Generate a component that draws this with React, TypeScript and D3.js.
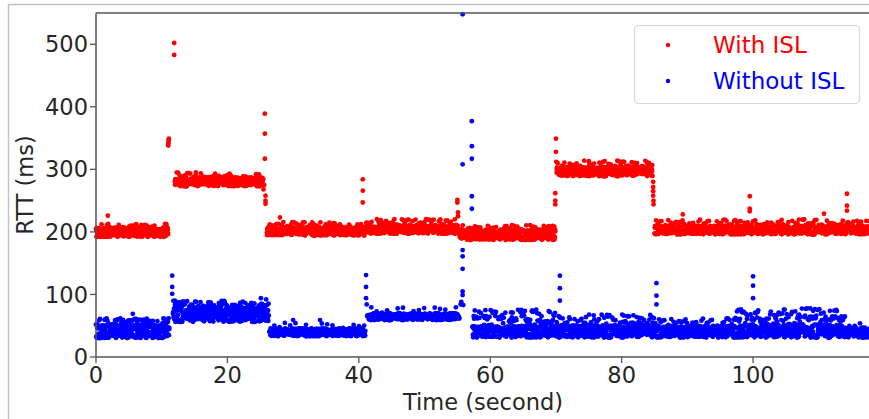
import * as d3 from 'd3';
import { useMemo } from 'react';

const W = 869;
const H = 419;

// band segments: [start (s), end (s), band low, band high, outlier top, outlier share]
const redSegments = [
  [0, 11.0, 192, 207, 213, 0.1],
  [12.0, 25.5, 273, 287, 295, 0.1],
  [26.0, 41.0, 194, 208, 216, 0.1],
  [41.0, 55.1, 197, 211, 221, 0.1],
  [55.3, 69.9, 187, 204, 211, 0.1],
  [70.1, 84.7, 289, 304, 314, 0.12],
  [85.0, 117.8, 196, 210, 220, 0.1],
];

const blueSegments = [
  [0, 11.2, 30, 52, 62, 0.15],
  [11.7, 26.3, 56, 78, 90, 0.15],
  [26.4, 41.0, 33, 46, 55, 0.05],
  [41.3, 55.3, 59, 70, 80, 0.05],
  [57.3, 70.0, 31, 50, 76, 0.25],
  [70.0, 85.0, 31, 50, 68, 0.15],
  [85.0, 97.0, 31, 50, 62, 0.1],
  [97.0, 114.0, 31, 52, 78, 0.2],
  [114.0, 117.8, 31, 47, 56, 0.05],
];

// isolated samples: [time, rtt]
const redSpikes = [
  [1.8, 226], [11.0, 338], [11.0, 341], [11.05, 344], [11.05, 347], [11.1, 349],
  [11.9, 502], [11.9, 483], [15.2, 295], [25.5, 268], [25.6, 275],
  [25.7, 389], [25.7, 357], [25.7, 317], [25.8, 258], [25.8, 250], [25.8, 245],
  [28.0, 223], [40.6, 284], [40.6, 266], [40.6, 247],
  [55.0, 251], [55.0, 247], [55.1, 231], [55.1, 225],
  [69.9, 262], [69.9, 250], [69.9, 244], [70.0, 349], [70.0, 328], [70.05, 312],
  [84.8, 280], [84.8, 272], [84.8, 265], [84.8, 258], [84.85, 250], [84.85, 244],
  [89.3, 228], [94.5, 217], [99.5, 257], [99.5, 237], [99.5, 233],
  [110.8, 229], [114.3, 261], [114.3, 242], [114.3, 234],
];

const blueSpikes = [
  [5.6, 69], [11.6, 130], [11.6, 112], [11.6, 101], [12.0, 90], [12.2, 88],
  [25.1, 94], [25.9, 92], [30.0, 59], [34.1, 59],
  [41.1, 131], [41.1, 112], [41.1, 94], [41.2, 84],
  [55.5, 84], [55.6, 88], [55.8, 548], [55.8, 308], [55.8, 171], [55.8, 161],
  [55.8, 141], [55.8, 105], [55.8, 99], [55.9, 83],
  [57.2, 377], [57.2, 337], [57.2, 317], [57.2, 257], [57.2, 237],
  [70.6, 130], [70.6, 110], [70.6, 90],
  [85.3, 118], [85.3, 98], [85.3, 84],
  [100.0, 129], [100.0, 114], [100.0, 94],
];

const xTicks = [0, 20, 40, 60, 80, 100];
const yTicks = [0, 100, 200, 300, 400, 500];

// fixed jitter tables for the dense bands
const J1 = [0.12, 0.87, 0.45, 0.63, 0.05, 0.91, 0.34, 0.72, 0.28, 0.56, 0.99, 0.17, 0.68, 0.41, 0.83, 0.09,
  0.52, 0.76, 0.23, 0.95, 0.38, 0.61, 0.02, 0.79, 0.47, 0.14, 0.88, 0.31, 0.66, 0.54, 0.20];
const J2 = [0.73, 0.26, 0.58, 0.04, 0.92, 0.39, 0.67, 0.15, 0.84, 0.49, 0.31, 0.96, 0.08, 0.62, 0.43,
  0.77, 0.19, 0.55, 0.89, 0.35, 0.71, 0.11, 0.98, 0.46, 0.27, 0.64, 0.82, 0.06, 0.51];
const J3 = [0.44, 0.91, 0.17, 0.63, 0.08, 0.76, 0.35, 0.97, 0.22, 0.58, 0.86, 0.13, 0.69, 0.41, 0.94,
  0.27, 0.52, 0.05, 0.81, 0.37, 0.66, 0.89, 0.19];

function bandPoints(segs, offset) {
  const pts = [];
  let i = offset;
  segs.forEach(([t0, t1, lo, hi, top, share]) => {
    for (let t = t0; t <= t1; t += 0.035, i++) {
      const u = (J1[i % 31] + J2[i % 29]) % 1;
      let v = lo + (hi - lo) * u;
      if (J3[i % 23] > 1 - share) {
        const w = (J1[(i * 3) % 31] + J2[(i * 5) % 29]) % 1;
        v = hi - 4 + (top - hi + 4) * w;
      }
      pts.push([t, v]);
    }
  });
  return pts;
}

const font = '"DejaVu Sans", sans-serif';
const textColor = '#262626';

export default function App() {
  const margin = { left: 96, top: 13, right: 870, bottom: 357 };

  const x = d3.scaleLinear().domain([0, 117.8]).range([margin.left, margin.right]);
  const y = d3.scaleLinear().domain([0, 550]).range([margin.bottom, margin.top]);

  const red = useMemo(() => bandPoints(redSegments, 0).concat(redSpikes), []);
  const blue = useMemo(() => bandPoints(blueSegments, 7).concat(blueSpikes), []);

  return (
    <svg width={W} height={H} style={{ position: 'absolute', left: 0, top: 0, background: '#fff' }}>
      <rect x={8.5} y={4.5} width={W} height={H} fill="none" stroke="#c4c4c4" strokeWidth={1.5} />

      <g>
        {red.map((d, i) => (
          <circle key={'r' + i} cx={x(d[0])} cy={y(d[1])} r={2.4} fill="#ff0000" />
        ))}
        {blue.map((d, i) => (
          <circle key={'b' + i} cx={x(d[0])} cy={y(d[1])} r={2.4} fill="#0000ff" />
        ))}
      </g>

      {/* spines */}
      <line x1={margin.left} x2={margin.left} y1={margin.top} y2={margin.bottom} stroke="#555" strokeWidth={1.5} />
      <line x1={margin.left} x2={W} y1={margin.bottom} y2={margin.bottom} stroke="#555" strokeWidth={1.5} />
      <line x1={margin.left} x2={W} y1={margin.top} y2={margin.top} stroke="#555" strokeWidth={1.5} />

      {/* y axis */}
      {yTicks.map(t => (
        <g key={'y' + t}>
          <line x1={margin.left - 6} x2={margin.left} y1={y(t)} y2={y(t)} stroke="#555" strokeWidth={1.3} />
          <text x={margin.left - 8} y={y(t)} dy="0.36em" textAnchor="end" fontFamily={font} fontSize={22.5} fill={textColor}>
            {t}
          </text>
        </g>
      ))}

      {/* x axis */}
      {xTicks.map(t => (
        <g key={'x' + t}>
          <line x1={x(t)} x2={x(t)} y1={margin.bottom} y2={margin.bottom + 6} stroke="#555" strokeWidth={1.3} />
          <text x={x(t)} y={383} textAnchor="middle" fontFamily={font} fontSize={22.5} fill={textColor}>
            {t}
          </text>
        </g>
      ))}

      <text x={483} y={410} textAnchor="middle" fontFamily={font} fontSize={22.5} fill={textColor}>
        Time (second)
      </text>
      <text
        transform={`translate(33,${(margin.top + margin.bottom) / 2}) rotate(-90)`}
        textAnchor="middle"
        fontFamily={font}
        fontSize={22.5}
        fill={textColor}
      >
        RTT (ms)
      </text>

      {/* legend */}
      <g>
        <rect x={634.5} y={25.5} width={225} height={78} rx={4} fill="#fff" fillOpacity={0.85} stroke="#d8d8d8" strokeWidth={1.2} />
        <circle cx={668} cy={45} r={2.2} fill="#ff0000" />
        <text x={713} y={53} fontFamily={font} fontSize={23} fill="#ff0000">With ISL</text>
        <circle cx={668} cy={81} r={2.2} fill="#0000ff" />
        <text x={713} y={89} fontFamily={font} fontSize={23} fill="#0000ff">Without ISL</text>
      </g>
    </svg>
  );
}
